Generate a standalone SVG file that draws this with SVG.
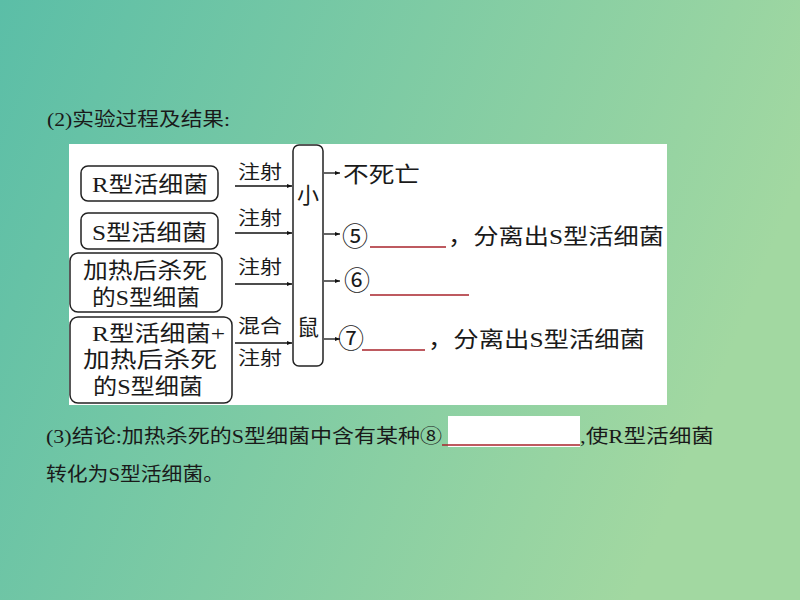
<svg xmlns="http://www.w3.org/2000/svg" width="800" height="600" viewBox="0 0 800 600">
<defs>
<linearGradient id="bg" x1="0" y1="0" x2="1" y2="0.3">
<stop offset="0" stop-color="#5bbea7"/>
<stop offset="1" stop-color="#a2d8a1"/>
</linearGradient>
<marker id="ah" viewBox="0 0 10 10" refX="10" refY="5" markerWidth="7" markerHeight="5" orient="auto" markerUnits="userSpaceOnUse">
<path d="M0,1 L10,5 L0,9 z" fill="#111"/>
</marker>
<style>
text{font-family:"Liberation Serif","Noto Sans CJK SC",serif;fill:#1a1a1a}
.box{fill:none;stroke:#222;stroke-width:1.5}
.bt{font-size:22px}
.lb{font-size:19px}
.rt{font-size:22px}
.cn{font-size:26px}
.ln{stroke:#111;stroke-width:1.3;fill:none}
.red{stroke:#a8232b;stroke-width:1.3}
.cap{font-size:19px}
</style>
</defs>
<rect width="800" height="600" fill="url(#bg)"/>
<text class="cap" x="47" y="126" textLength="183" lengthAdjust="spacingAndGlyphs">(2)实验过程及结果:</text>
<rect x="69" y="144" width="598" height="261" fill="#fff"/>

<g id="n1"><rect class="box" x="81" y="166" width="137" height="35" rx="7"/><text class="bt" x="92" y="192" textLength="116" lengthAdjust="spacingAndGlyphs">R型活细菌</text></g>
<g id="n2"><rect class="box" x="81" y="213" width="137" height="36" rx="7"/><text class="bt" x="92" y="240" textLength="115" lengthAdjust="spacingAndGlyphs">S型活细菌</text></g>
<g id="n3"><rect class="box" x="70" y="253" width="152" height="59" rx="8"/><text class="bt" x="83" y="278" textLength="124" lengthAdjust="spacingAndGlyphs">加热后杀死</text><text class="bt" x="92" y="305" textLength="108" lengthAdjust="spacingAndGlyphs">的S型细菌</text></g>
<g id="n4"><rect class="box" x="70" y="317" width="162" height="86" rx="8"/><text class="bt" x="92" y="341" textLength="133" lengthAdjust="spacingAndGlyphs">R型活细菌+</text><text class="bt" x="83" y="367" textLength="134" lengthAdjust="spacingAndGlyphs">加热后杀死</text><text class="bt" x="93" y="394" textLength="110" lengthAdjust="spacingAndGlyphs">的S型细菌</text></g>
<g id="mouse"><rect class="box" x="293" y="145" width="30" height="221" rx="6"/><text class="bt" x="308" y="203" text-anchor="middle">小</text><text class="bt" x="308" y="335" text-anchor="middle">鼠</text></g>

<g id="connectors">
<line class="ln" x1="235" y1="186" x2="292" y2="186" marker-end="url(#ah)"/>
<line class="ln" x1="235" y1="233" x2="292" y2="233" marker-end="url(#ah)"/>
<line class="ln" x1="235" y1="284" x2="292" y2="284" marker-end="url(#ah)"/>
<line class="ln" x1="235" y1="343" x2="292" y2="343" marker-end="url(#ah)"/>
<line class="ln" x1="324" y1="173" x2="340" y2="173" marker-end="url(#ah)"/>
<line class="ln" x1="324" y1="234" x2="340" y2="234" marker-end="url(#ah)"/>
<line class="ln" x1="324" y1="281" x2="340" y2="281" marker-end="url(#ah)"/>
<line class="ln" x1="324" y1="339" x2="340" y2="339" marker-end="url(#ah)"/>
<text class="lb" x="238" y="179" textLength="44" lengthAdjust="spacingAndGlyphs">注射</text>
<text class="lb" x="238" y="225" textLength="44" lengthAdjust="spacingAndGlyphs">注射</text>
<text class="lb" x="238" y="274" textLength="44" lengthAdjust="spacingAndGlyphs">注射</text>
<text class="lb" x="238" y="333" textLength="44" lengthAdjust="spacingAndGlyphs">混合</text>
<text class="lb" x="238" y="365" textLength="44" lengthAdjust="spacingAndGlyphs">注射</text>
</g>

<g id="results">
<text class="rt" x="343" y="182" textLength="77" lengthAdjust="spacingAndGlyphs">不死亡</text>
<text class="cn" x="342" y="246">⑤</text>
<line class="red" x1="370" y1="247" x2="446" y2="247"/>
<text class="rt" x="448" y="244" textLength="216" lengthAdjust="spacingAndGlyphs">，分离出S型活细菌</text>
<text class="cn" x="344" y="290">⑥</text>
<line class="red" x1="370" y1="295" x2="469" y2="295"/>
<text class="cn" x="338" y="348">⑦</text>
<line class="red" x1="362" y1="350" x2="425" y2="350"/>
<text class="rt" x="428" y="347" textLength="217" lengthAdjust="spacingAndGlyphs">，分离出S型活细菌</text>
</g>

<text class="cap" x="46" y="443" textLength="396" lengthAdjust="spacingAndGlyphs">(3)结论:加热杀死的S型细菌中含有某种⑧</text>
<rect x="448" y="416" width="132" height="31" fill="#fff"/>
<line class="red" x1="442" y1="445" x2="580" y2="445"/>
<text class="cap" x="580" y="443" textLength="134" lengthAdjust="spacingAndGlyphs">,使R型活细菌</text>
<text class="cap" x="46" y="481" textLength="178" lengthAdjust="spacingAndGlyphs">转化为S型活细菌。</text>
</svg>
